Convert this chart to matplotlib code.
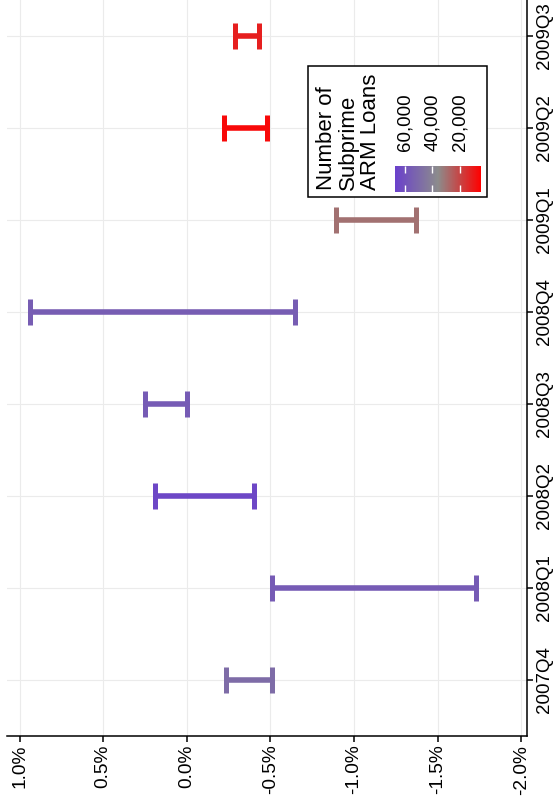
import matplotlib
matplotlib.use("Agg")
from matplotlib import pyplot as plt
from matplotlib.colors import LinearSegmentedColormap, Normalize
from matplotlib.cm import ScalarMappable
from matplotlib.patches import Rectangle

plt.rcParams['font.family'] = ['Liberation Sans', 'DejaVu Sans']

# Data (percent change ranges per quarter, coloured by number of subprime ARM loans)
quarters = ["2007Q4", "2008Q1", "2008Q2", "2008Q3", "2008Q4", "2009Q1", "2009Q2", "2009Q3"]
low = [-0.51, -1.73, -0.40, 0.00, -0.645, -1.37, -0.48, -0.435]
high = [-0.235, -0.51, 0.19, 0.25, 0.94, -0.89, -0.22, -0.29]
loans = [49000, 56000, 64000, 56000, 55000, 30000, 7000, 12000]
value_ticks = [1.0, 0.5, 0.0, -0.5, -1.0, -1.5, -2.0]
legend_ticks = [60000, 40000, 20000]

W, H = 557, 807
fig = plt.figure(figsize=(W / 100, H / 100), dpi=100)


def fx(px):
    return px / W


def fy(py):
    return (H - py) / H


cmap = LinearSegmentedColormap.from_list("loans", ["#FF0000", "#8C8C8C", "#6A40CC"])
norm = Normalize(vmin=5000, vmax=67000)

# Main panel (drawn rotated: quarters along the right side, values along the bottom)
ax = fig.add_axes([fx(7), fy(735.7), fx(527) - fx(7), 1 - fy(735.7)])
ypos = list(range(len(quarters)))
for i in ypos:
    mid = (low[i] + high[i]) / 2
    ax.errorbar([mid], [i], xerr=[[mid - low[i]], [high[i] - mid]], fmt='none',
                ecolor=cmap(norm(loans[i])), elinewidth=4, capsize=9.7, capthick=3.6,
                zorder=3)

ax.set_xlim(1.075, -2.035)
ax.set_ylim(-0.605, 7.39)
ax.set_xticks(value_ticks)
ax.set_xticklabels(["%.1f%%" % v for v in value_ticks], rotation=90, fontsize=13.8)
ax.set_yticks(ypos)
ax.set_yticklabels(quarters, rotation=90, va='center', fontsize=13.5)
ax.yaxis.tick_right()
ax.tick_params(axis='both', direction='out', length=4, width=1.1, color='black', pad=2.5)
ax.grid(True, color='#EBEBEB', linewidth=0.8, zorder=0)
ax.set_axisbelow(True)
for s in ['top', 'left']:
    ax.spines[s].set_visible(False)
for s in ['bottom', 'right']:
    ax.spines[s].set_linewidth(1.1)
    ax.spines[s].set_color('black')

# Legend box
box = Rectangle((fx(308), fy(197)), fx(487) - fx(308), fy(66) - fy(197),
                transform=fig.transFigure, facecolor='white', edgecolor='black',
                linewidth=1.1, zorder=4)
fig.patches.append(box)
fig.text(fx(316), fy(190), "Number of\nSubprime\nARM Loans", rotation=90,
         ha='left', va='bottom', multialignment='left', fontsize=16,
         linespacing=1.05, zorder=5)

cax = fig.add_axes([fx(395), fy(192), fx(481) - fx(395), fy(166) - fy(192)])
cax.set_zorder(6)
cb = fig.colorbar(ScalarMappable(norm=norm, cmap=cmap), cax=cax, orientation='horizontal')
cb.outline.set_visible(False)
cax.invert_xaxis()
cb.set_ticks(legend_ticks)
cb.set_ticklabels(["{:,}".format(t) for t in legend_ticks])
cax.tick_params(axis='x', top=True, bottom=True, labeltop=True, labelbottom=False,
                direction='in', color='white', length=5, width=1, labelsize=13.5, pad=11)
for lab in cax.get_xticklabels():
    lab.set_rotation(90)

fig.savefig("out.png", dpi=100)
